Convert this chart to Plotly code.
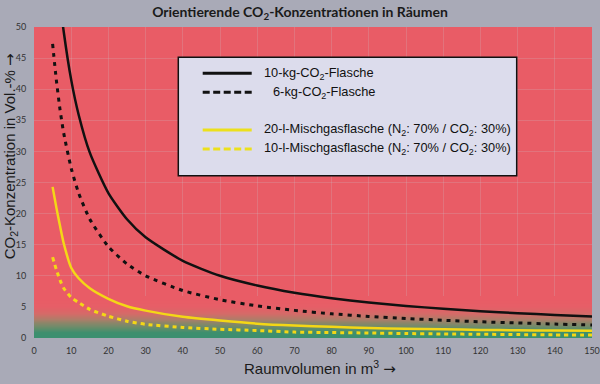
import plotly.graph_objects as go

# ---- data ----
volume = [5, 6, 7, 8, 10, 12, 15, 20, 25, 30, 40, 50, 60, 70, 80, 90, 100, 110, 120, 130, 140, 150]
co2_10kg = [68.2, 60.4, 54.2, 49.2, 41.5, 35.9, 29.8, 23.3, 19.1, 16.2, 12.4, 10.0, 8.44, 7.28, 6.40,
            5.71, 5.16, 4.70, 4.32, 3.99, 3.71, 3.47]
co2_6kg = [47.3, 41.5, 36.7, 32.9, 27.3, 23.3, 19.1, 14.7, 11.9, 10.0, 7.63, 6.16, 5.16, 4.44, 3.89,
           3.47, 3.13, 2.85, 2.61, 2.42, 2.24, 2.10]
mix_20l = [24.3, 21.0, 18.0, 15.2, 11.3, 9.6, 8.0, 6.3, 5.1, 4.4, 3.4, 2.8, 2.3, 2.0, 1.8,
           1.6, 1.5, 1.4, 1.3, 1.25, 1.2, 1.15]
mix_10l = [13.0, 11.0, 9.3, 8.0, 6.5, 5.7, 4.6, 3.5, 2.7, 2.2, 1.7, 1.4, 1.2, 0.95, 0.88,
           0.8, 0.72, 0.65, 0.6, 0.55, 0.5, 0.47]

series_names = [
    "10-kg-CO<sub>2</sub>-Flasche",
    "6-kg-CO<sub>2</sub>-Flasche",
    "20-l-Mischgasflasche (N<sub>2</sub>: 70% / CO<sub>2</sub>: 30%)",
    "10-l-Mischgasflasche (N<sub>2</sub>: 70% / CO<sub>2</sub>: 30%)",
]
x_ticks = list(range(0, 151, 10))
y_ticks = list(range(0, 51, 5))

# background gradient band (bottom of plot: green -> red)
grad_y = [0, 0.5, 1, 1.5, 2, 2.5, 3, 3.5, 4, 4.5, 5, 5.5, 6, 6.5]

BG = "#a9aab7"
RED = "#e95c66"
BLACK = "#111111"
YELLOW = "#f4d716"
ARROW = '<span style="font-family:DejaVu Sans">→</span>'

fig = go.Figure()

fig.add_trace(go.Heatmap(
    x=[0, 150], y=grad_y, z=[[v, v] for v in grad_y],
    zmin=0, zmax=6.5, zsmooth="best", showscale=False, hoverinfo="skip",
    colorscale=[
        [0.0, "#3a9070"], [0.15, "#3e8f6e"], [0.3, "#6f8d6a"], [0.45, "#ab7f69"],
        [0.6, "#d46c68"], [0.78, "#e65f67"], [1.0, RED],
    ],
))

styles = [
    dict(color=BLACK, width=2.5),
    dict(color=BLACK, width=3, dash="4px,5px"),
    dict(color=YELLOW, width=2.5),
    dict(color=YELLOW, width=3, dash="4px,4px"),
]
for name, vals, st in zip(series_names, [co2_10kg, co2_6kg, mix_20l, mix_10l], styles):
    fig.add_trace(go.Scatter(x=volume, y=vals, mode="lines", name=name,
                             line=dict(shape="spline", smoothing=0.6, **st), showlegend=False))

# ---- manual legend box (pixel -> paper helpers) ----
L, R, T, B = 34, 592, 27, 338.3
def px(x):
    return (x - L) / (R - L)
def py(y):
    return (B - y) / (B - T)

shapes = [dict(type="rect", xref="paper", yref="paper", x0=px(178.3), x1=px(516.7),
               y0=py(176), y1=py(57.3), fillcolor="#dcdcec", line=dict(color="#111", width=1.5),
               layer="above")]
rows = [73.3, 92.3, 130, 149]
legend_dash = [None, "7px,3.5px", None, "7px,3.5px"]
legend_col = [BLACK, BLACK, "#ece01c", "#ece01c"]
for yy, d, c in zip(rows, legend_dash, legend_col):
    ln = dict(color=c, width=3)
    if d:
        ln["dash"] = d
    shapes.append(dict(type="line", xref="paper", yref="paper", x0=px(202.7), x1=px(251.7),
                       y0=py(yy), y1=py(yy), line=ln, layer="above"))

annotations = []
text_x = [261.7, 270.5, 261.7, 261.7]
for yy, tx, name in zip(rows, text_x, series_names):
    annotations.append(dict(xref="paper", yref="paper", x=px(tx), y=py(yy), text=name,
                            showarrow=False, xanchor="left", yanchor="middle",
                            font=dict(family="Liberation Sans", size=12.8, color="#111")))

# axis titles
annotations.append(dict(xref="paper", yref="paper", x=px(320), y=py(368),
                        text="Raumvolumen in m<sup>3</sup> " + ARROW, showarrow=False,
                        xanchor="center", yanchor="middle",
                        font=dict(family="Liberation Sans", size=15, color="#1a1a1a")))
annotations.append(dict(xref="paper", yref="paper", x=px(10.5), y=py(157), textangle=-90,
                        text="CO<sub>2</sub>-Konzentration in Vol.-% " + ARROW, showarrow=False,
                        xanchor="center", yanchor="middle",
                        font=dict(family="Liberation Sans", size=15, color="#1a1a1a")))

fig.update_layout(
    width=600, height=384,
    margin=dict(l=L, r=600 - R, t=T, b=384 - B, autoexpand=False),
    paper_bgcolor=BG, plot_bgcolor=RED,
    title=dict(text="<b>Orientierende CO<sub>2</sub>-Konzentrationen in Räumen</b>",
               x=0.5, xanchor="center", y=1 - 12 / 384, yanchor="middle", yref="container",
               font=dict(family="Lato", size=14, color="#1a1a1a")),
    shapes=shapes, annotations=annotations, showlegend=False,
    xaxis=dict(range=[0, 150], tickvals=x_ticks, showgrid=True, automargin=False,
               gridcolor="rgba(200,200,205,0.22)", gridwidth=1, zeroline=False,
               ticks="outside", ticklen=4, tickcolor="rgba(0,0,0,0)",
               tickfont=dict(family="Lato", size=9, color="#333")),
    yaxis=dict(range=[0, 50], tickvals=y_ticks, showgrid=True, automargin=False,
               gridcolor="rgba(200,200,205,0.22)", gridwidth=1, zeroline=False,
               ticks="outside", ticklen=5, tickcolor="rgba(0,0,0,0)",
               tickfont=dict(family="Lato", size=9, color="#333")),
)

fig.write_html("out.html")
